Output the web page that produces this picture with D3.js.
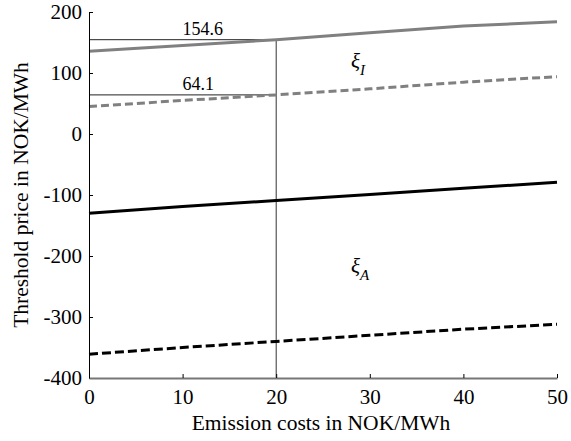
<!DOCTYPE html>
<html>
<head>
<meta charset="utf-8">
<script src="https://cdn.jsdelivr.net/npm/d3@7"></script>
<style>
  body { margin: 0; background: #fff; }
  svg text { font-family: "Liberation Serif", "Times New Roman", serif; fill: #000; }
</style>
</head>
<body>
<div id="chart"></div>
<script>
// emission cost (x) and threshold prices for each curve
const emissionCosts = [0, 10, 20, 30, 40, 50];
const xiIsolid = [135.5, 145, 154.6, 166, 177, 184];
const xiIdashed = [45, 55, 64.1, 74, 85, 94];
const xiAsolid = [-130, -119, -109, -99, -89, -79];
const xiAdashed = [-361, -350, -340, -330, -320, -312];
const xTicks = [0, 10, 20, 30, 40, 50];
const yTicks = [-400, -300, -200, -100, 0, 100, 200];
const markX = 20;
const markValues = [154.6, 64.1];

const width = 571, height = 441;
const margin = { top: 12, right: 14, bottom: 63, left: 89 };

const svg = d3.select("#chart").append("svg")
  .attr("width", width)
  .attr("height", height);

const x = d3.scaleLinear().domain([0, 50]).range([margin.left, width - margin.right]);
const y = d3.scaleLinear().domain([-400, 200]).range([height - margin.bottom, margin.top]);

// reference lines at x = 20
svg.append("line")
  .attr("x1", x(markX)).attr("x2", x(markX))
  .attr("y1", y(markValues[0])).attr("y2", y(-400))
  .attr("stroke", "#333").attr("stroke-width", 1);

markValues.forEach((v) => {
  svg.append("line")
    .attr("x1", x(0)).attr("x2", x(markX))
    .attr("y1", y(v)).attr("y2", y(v))
    .attr("stroke", "#222").attr("stroke-width", 1);
  svg.append("text")
    .attr("x", x(markX / 2))
    .attr("y", y(v) - 5)
    .attr("font-size", 18)
    .text(v.toFixed(1));
});

// curves
const series = [
  { values: xiIsolid, color: "#808080", dash: null },
  { values: xiIdashed, color: "#808080", dash: "8,4" },
  { values: xiAsolid, color: "#000", dash: null },
  { values: xiAdashed, color: "#000", dash: "9,4" },
];

const line = d3.line()
  .x((d, i) => x(emissionCosts[i]))
  .y((d) => y(d));

series.forEach((s) => {
  svg.append("path")
    .datum(s.values)
    .attr("fill", "none")
    .attr("stroke", s.color)
    .attr("stroke-width", 3)
    .attr("stroke-dasharray", s.dash)
    .attr("d", line);
});

// axes (plain hyphen for negatives, like the original)
const plain = (d) => String(d);

const yAxis = svg.append("g")
  .attr("transform", `translate(${margin.left},0)`)
  .call(d3.axisLeft(y).tickValues(yTicks).tickFormat(plain).tickSizeInner(-4).tickSizeOuter(0).tickPadding(7));
yAxis.select(".domain").attr("stroke", "#000").attr("stroke-width", 1);
yAxis.selectAll(".tick line").attr("stroke", "#000");
yAxis.selectAll("text").attr("font-size", 21);

const xAxis = svg.append("g")
  .attr("transform", `translate(0,${y(-400)})`)
  .call(d3.axisBottom(x).tickValues(xTicks).tickFormat(plain).tickSizeInner(-4).tickSizeOuter(0).tickPadding(11));
xAxis.select(".domain").attr("stroke", "#777").attr("stroke-width", 2);
xAxis.selectAll(".tick line").attr("stroke", "#000");
xAxis.selectAll("text").attr("font-size", 21);

// axis titles
svg.append("text")
  .attr("x", 321)
  .attr("y", 430)
  .attr("text-anchor", "middle")
  .attr("font-size", 21.5)
  .text("Emission costs in NOK/MWh");

svg.append("text")
  .attr("transform", "translate(28,195) rotate(-90)")
  .attr("text-anchor", "middle")
  .attr("font-size", 21.5)
  .text("Threshold price in NOK/MWh");

// region labels
const regionLabels = [
  { sub: "I", xv: 28, yv: 108 },
  { sub: "A", xv: 28, yv: -228 },
];
regionLabels.forEach((r) => {
  const t = svg.append("text")
    .attr("x", x(r.xv))
    .attr("y", y(r.yv))
    .attr("font-size", 21)
    .attr("font-style", "italic");
  t.append("tspan").text("ξ");
  t.append("tspan").attr("dy", 7).attr("font-size", 15).text(r.sub);
});
</script>
</body>
</html>
